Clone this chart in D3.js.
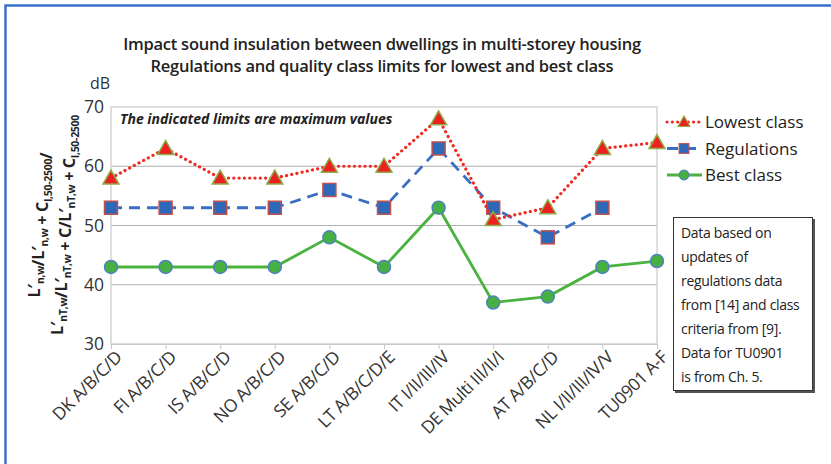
<!DOCTYPE html>
<html><head><meta charset="utf-8">
<script src="https://cdn.jsdelivr.net/npm/d3@7"></script>
<style>body{margin:0;background:#fff}svg{display:block}text{font-family:"Open Sans",Lato,sans-serif}</style>
</head><body><svg id="c" width="831" height="464"></svg>
<script>
const categories = ["DK A/B/C/D","FI A/B/C/D","IS A/B/C/D","NO A/B/C/D","SE A/B/C/D","LT A/B/C/D/E","IT I/II/III/IV","DE Multi III/II/I","AT A/B/C/D","NL I/II/III/IV/V","TU0901 A-F"];
const lowestClass = [58,63,58,58,60,60,68,51,53,63,64];
const regulations = [53,53,53,53,56,53,63,53,48,53,null];
const bestClass = [43,43,43,43,48,43,53,37,38,43,44];
const yTicks = [30,40,50,60,70];
const titleLines = ["Impact sound insulation between dwellings in multi-storey housing","Regulations and quality class limits for lowest and best class"];
const noteLines = ["Data based on","updates of","regulations data","from [14] and class","criteria from [9].","Data for TU0901","is from Ch. 5."];

const svg = d3.select("#c");
svg.append("rect").attr("x",5.5).attr("y",5.5).attr("width",840).attr("height",480)
  .attr("fill","none").attr("stroke","#3b6fc6").attr("stroke-width",2.5);

const L=111,R=657,T=107,B=344;
const x = d3.scalePoint().domain(categories).range([L,R]);
const y = d3.scaleLinear().domain([30,70]).range([B,T]);

svg.append("g").selectAll("text").data(titleLines).join("text")
  .attr("x",382).attr("y",(d,i)=>50+i*22).attr("text-anchor","middle")
  .attr("font-size",16.5).attr("font-weight",600).attr("fill","#222").attr("letter-spacing",-0.25).text(d=>d);

svg.append("g").selectAll("line").data(yTicks.filter(t=>t>30&&t<70)).join("line")
  .attr("x1",L).attr("x2",R).attr("y1",d=>y(d)).attr("y2",d=>y(d)).attr("stroke","#b0b0b0").attr("stroke-width",1);
svg.append("rect").attr("x",L).attr("y",T).attr("width",R-L).attr("height",B-T)
  .attr("fill","none").attr("stroke","#c8c8c8").attr("stroke-width",1.2);

const ya = svg.append("g").attr("transform",`translate(${L},0)`)
  .call(d3.axisLeft(y).tickValues(yTicks).tickSize(0).tickPadding(7));
ya.select(".domain").remove();
ya.selectAll("text").attr("font-size",17.5).attr("fill","#333").attr("font-family","'Open Sans',sans-serif");
svg.append("text").attr("x",90).attr("y",89).attr("font-size",16).attr("fill","#333").text("dB");

const xa = svg.append("g").attr("transform",`translate(0,${B})`)
  .call(d3.axisBottom(x).tickSize(5).tickPadding(4));
xa.select(".domain").attr("stroke","#c8c8c8");
xa.selectAll(".tick line").attr("stroke","#c8c8c8");
xa.selectAll("text").attr("font-size",17.5).attr("fill","#333").attr("text-anchor","end")
  .attr("dy",0).attr("transform","translate(5,8) rotate(-45)").attr("letter-spacing",-0.4);

const yt = svg.append("g").attr("transform","translate(0,225) rotate(-90)");
function sub(t,s){t.append("tspan").attr("font-size",10.5).attr("dy",4).text(s);t.append("tspan").attr("dy",-4).text("");}
{
  const t1 = yt.append("text").attr("x",0).attr("y",40).attr("text-anchor","middle").attr("font-size",16).attr("font-weight",700).attr("fill","#222").attr("letter-spacing",-0.3);
  t1.append("tspan").text("L′"); sub(t1,"n,w"); t1.append("tspan").text("/L′"); sub(t1,"n,w");
  t1.append("tspan").text(" + C"); sub(t1,"I,50-2500"); t1.append("tspan").text("/");
  const t2 = yt.append("text").attr("x",0).attr("y",63).attr("text-anchor","middle").attr("font-size",16).attr("font-weight",700).attr("fill","#222").attr("letter-spacing",-0.3);
  t2.append("tspan").text("L′"); sub(t2,"nT,w"); t2.append("tspan").text("/L′"); sub(t2,"nT,w");
  t2.append("tspan").text(" + C/L′"); sub(t2,"nT,w"); t2.append("tspan").text(" + C"); sub(t2,"I,50-2500");
}

svg.append("text").attr("x",120).attr("y",124).attr("font-size",14).attr("font-weight",700).attr("font-style","italic")
  .attr("fill","#222").text("The indicated limits are maximum values");

const series = [
  {name:"Lowest class",data:lowestClass,color:"#ee2b24",dash:"0.1 5.2",cap:"round",w:3.2,shape:"tri"},
  {name:"Regulations",data:regulations,color:"#3a6ec2",dash:"11 7",cap:"butt",w:2.8,shape:"sq"},
  {name:"Best class",data:bestClass,color:"#4ab23f",dash:null,cap:"butt",w:2.8,shape:"circ"}
];
const line = d3.line().defined(d=>d.v!=null).x(d=>x(d.c)).y(d=>y(d.v));
function marker(g,shape,cx,cy){
  if(shape==="tri") g.append("path").attr("d",`M${cx},${cy-8}L${cx+8},${cy+6}L${cx-8},${cy+6}Z`).attr("fill","#ec2020").attr("stroke","#8cae48").attr("stroke-width",1.5);
  else if(shape==="sq") g.append("rect").attr("x",cx-6.5).attr("y",cy-6.5).attr("width",13).attr("height",13).attr("fill","#2e68b8").attr("stroke","#c0504d").attr("stroke-width",1.5);
  else g.append("circle").attr("cx",cx).attr("cy",cy).attr("r",6.5).attr("fill","#46b043").attr("stroke","#4f81bd").attr("stroke-width",1.5);
}
[2,1,0].forEach(i=>{
  const s=series[i];
  const pts = categories.map((c,j)=>({c,v:s.data[j]}));
  const g=svg.append("g");
  g.append("path").attr("d",line(pts)).attr("fill","none").attr("stroke",s.color).attr("stroke-width",s.w)
    .attr("stroke-dasharray",s.dash).attr("stroke-linecap",s.cap);
  pts.filter(d=>d.v!=null).forEach(d=>marker(g,s.shape,x(d.c),y(d.v)));
});

series.forEach((s,i)=>{
  const ly = 122+i*26.5;
  const g=svg.append("g");
  g.append("line").attr("x1",667).attr("x2",702).attr("y1",ly).attr("y2",ly).attr("stroke",s.color).attr("stroke-width",s.w)
    .attr("stroke-dasharray",s.dash).attr("stroke-linecap",s.cap);
  const gm=g.append("g").attr("transform",`translate(${684},${ly}) scale(0.75) translate(${-684},${-ly})`);
  marker(gm,s.shape,684,ly);
  g.append("text").attr("x",705).attr("y",ly+6).attr("font-size",17).attr("fill","#222").text(s.name);
});

svg.append("rect").attr("x",675).attr("y",219).attr("width",140).attr("height",174).attr("fill","#555");
svg.append("rect").attr("x",673.5).attr("y",217.5).attr("width",139).attr("height",173).attr("fill","#fff").attr("stroke","#333").attr("stroke-width",1);
svg.append("g").selectAll("text").data(noteLines).join("text")
  .attr("x",681).attr("y",(d,i)=>238+i*24).attr("font-size",14).attr("fill","#222").attr("letter-spacing",-0.3).text(d=>d);
</script></body></html>
